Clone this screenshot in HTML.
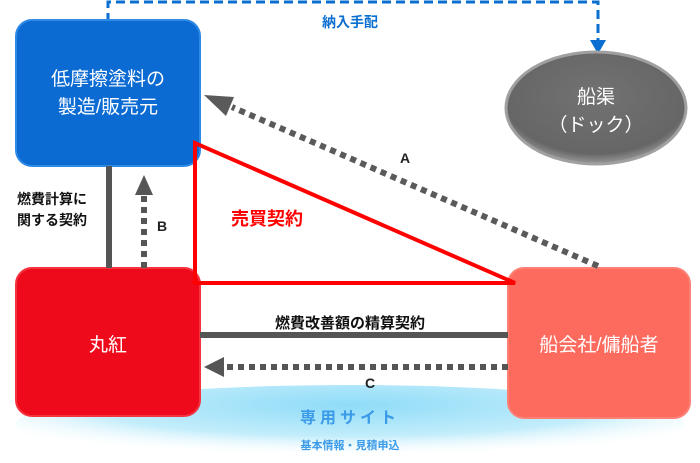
<!DOCTYPE html>
<html><head><meta charset="utf-8"><style>
body{margin:0;width:700px;height:463px;background:#fff;overflow:hidden;position:relative;font-family:"Liberation Sans","Noto Sans CJK JP",sans-serif}
.t{position:absolute;text-align:center;font-weight:bold}
</style></head><body>
<svg width="700" height="463" style="position:absolute;left:0;top:0">
<defs>
<radialGradient id="lb" cx="50%" cy="25%" r="65%"><stop offset="0" stop-color="#8fdcf8"/><stop offset="0.6" stop-color="#c3edfb"/><stop offset="1" stop-color="#fff" stop-opacity="0"/></radialGradient>
<radialGradient id="gr" cx="50%" cy="40%" r="60%"><stop offset="0" stop-color="#727272"/><stop offset="0.85" stop-color="#666"/><stop offset="1" stop-color="#999"/></radialGradient>
</defs>
<ellipse cx="350" cy="425" rx="335" ry="40" fill="url(#lb)"/>
<path d="M108 22 V2 H598 V42" fill="none" stroke="#0a6fd0" stroke-width="3" stroke-dasharray="9,5"/>
<polygon points="590,40 606,40 598,54" fill="#0a6fd0"/>
<ellipse cx="596" cy="108" rx="90" ry="56" fill="url(#gr)" stroke="#a0a0a0" stroke-width="3"/>
<rect x="16" y="20" width="184" height="146" rx="16" fill="#0b6bd3" stroke="#2f8ae6" stroke-width="2"/>
<rect x="16" y="268" width="184" height="148" rx="16" fill="#ef0a1b" stroke="#f5333f" stroke-width="2"/>
<rect x="508" y="268" width="182" height="150" rx="16" fill="#fd6b5f" stroke="#fd8075" stroke-width="2"/>
<line x1="109" y1="166" x2="109" y2="268" stroke="#555" stroke-width="6"/>
<line x1="144" y1="268" x2="144" y2="195" stroke="#555" stroke-width="6" stroke-dasharray="6,5"/>
<polygon points="135,195 153,195 144,175" fill="#555"/>
<line x1="598" y1="266" x2="232" y2="107" stroke="#5a5a5a" stroke-width="6" stroke-dasharray="6,5"/>
<polygon points="204,95 234,97 226,116" fill="#5a5a5a"/>
<line x1="200" y1="335" x2="508" y2="335" stroke="#555" stroke-width="6"/>
<line x1="508" y1="367" x2="226" y2="367" stroke="#555" stroke-width="6" stroke-dasharray="6,5"/>
<polygon points="204,367 224,357 224,377" fill="#555"/>
<polygon points="195,143 195,283 515,283" fill="none" stroke="#f00" stroke-width="4" stroke-linejoin="miter"/>
</svg>
<div class="t" style="left:290px;top:12px;width:120px;color:#0a6fd0;font-size:14px">納入手配</div>
<div class="t" style="left:16px;top:66px;width:184px;color:#fff;font-size:19px;line-height:28px;font-weight:normal">低摩擦塗料の<br>製造/販売元</div>
<div class="t" style="left:506px;top:84px;width:180px;color:#fff;font-size:19px;line-height:28px;font-weight:normal">船渠<br>（ドック）</div>
<div class="t" style="left:2px;top:189px;width:100px;color:#111;font-size:14px;line-height:21px">燃費計算に<br>関する契約</div>
<div class="t" style="left:152px;top:218px;width:20px;color:#222;font-size:14px">B</div>
<div class="t" style="left:395px;top:150px;width:20px;color:#222;font-size:14px">A</div>
<div class="t" style="left:212px;top:205px;width:110px;color:#f00;font-size:18px">売買契約</div>
<div class="t" style="left:16px;top:330px;width:184px;color:#fff;font-size:19px;font-weight:normal">丸紅</div>
<div class="t" style="left:508px;top:330px;width:182px;color:#fff;font-size:19px;font-weight:normal">船会社/傭船者</div>
<div class="t" style="left:240px;top:312px;width:220px;color:#111;font-size:15px">燃費改善額の精算契約</div>
<div class="t" style="left:360px;top:375px;width:20px;color:#222;font-size:14px">C</div>
<div class="t" style="left:270px;top:404px;width:160px;color:#3b9be8;font-size:16px;letter-spacing:4px">専用サイト</div>
<div class="t" style="left:270px;top:437px;width:160px;color:#3b9be8;font-size:11px">基本情報・見積申込</div>
</body></html>
